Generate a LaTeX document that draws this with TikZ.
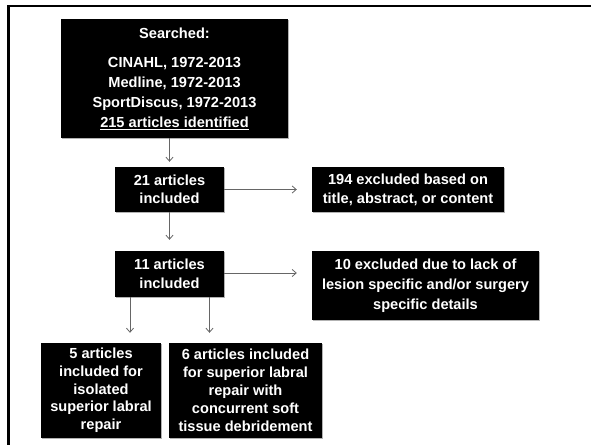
\documentclass[tikz,border=0pt]{standalone}
\usepackage{fontspec}
\setmainfont{Liberation Sans}
\usetikzlibrary{arrows.meta,calc,shadows}
\begin{document}
\begin{tikzpicture}[x=1pt,y=-1pt,
  box/.style={fill=black,text=white,font=\fontsize{14.6}{20}\selectfont\bfseries,
    align=center,inner sep=0pt,
    general shadow={fill=gray!60,shadow xshift=1pt,shadow yshift=-1pt}},
  conn/.style={draw=black!60,line width=0.8pt,-{Straight Barb[length=4pt,width=7pt]}},
  frameline/.style={line width=2.5pt,draw=black}]
\useasboundingbox (0,0) rectangle (591,445);
\draw[frameline] (7,6) -- (591,6);
\draw[frameline] (8.5,6) -- (8.5,445);

\node[box,minimum width=227pt,minimum height=119pt] (top) at (174.5,78.5)
  {Searched:\\[9pt]CINAHL, 1972-2013\\Medline, 1972-2013\\SportDiscus, 1972-2013\\\underline{215 articles identified}};
\node[box,minimum width=109pt,minimum height=45pt,font=\fontsize{14.6}{18.5}\selectfont\bfseries] (n21) at (169.5,189.5) {21 articles\\included};
\node[box,minimum width=192pt,minimum height=45pt,font=\fontsize{14.6}{19}\selectfont\bfseries] (ex194) at (408,189.5) {194 excluded based on\\title, abstract, or content};
\node[box,minimum width=109pt,minimum height=46pt,font=\fontsize{14.6}{18.5}\selectfont\bfseries] (n11) at (169.5,274) {11 articles\\included};
\node[box,minimum width=227pt,minimum height=69pt] (ex10) at (425.5,285.5) {10 excluded due to lack of\\lesion specific and/or surgery\\specific details};
\node[box,minimum width=120pt,minimum height=95pt,font=\fontsize{14.6}{17.7}\selectfont\bfseries] (n5) at (101,390.5) {5 articles\\included for\\isolated\\superior labral\\repair};
\node[box,minimum width=153pt,minimum height=95pt,font=\fontsize{14.6}{18}\selectfont\bfseries] (n6) at (245.5,390.5) {6 articles included\\for superior labral\\repair with\\concurrent soft\\tissue debridement};

\coordinate (a1) at (169.5,138);
\coordinate (b5) at (130,297);
\coordinate (b6) at (209.5,297);
\draw[conn,shorten >=5pt] (a1) -- (a1 |- n21.north);
\draw[conn,shorten >=15pt] (n21.east) -- (n21.east -| ex194.west);
\draw[conn,shorten >=11pt] (n21.south) -- (n11.north);
\draw[conn,shorten >=15pt] ($(n11.east)+(0,-1)$) -- ($(n11.east -| ex10.west)+(0,-1)$);
\draw[conn,shorten >=10pt] (b5) -- (b5 |- n5.north);
\draw[conn,shorten >=10pt] (b6) -- (b6 |- n6.north);
\end{tikzpicture}
\end{document}
